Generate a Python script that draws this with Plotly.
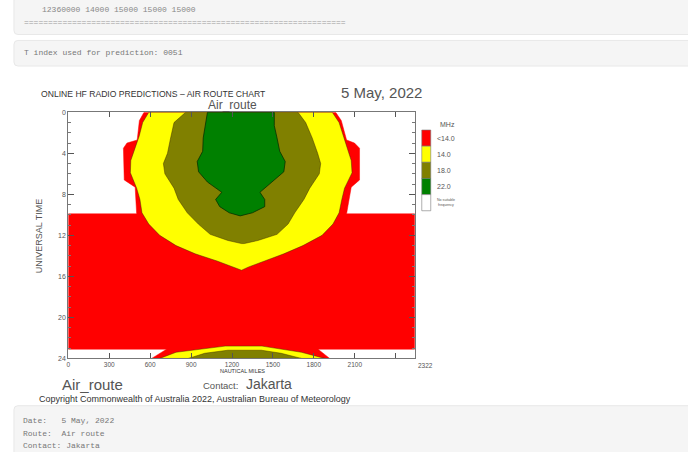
import plotly.graph_objects as go

W, H = 688, 452

# ---------------- data ----------------
# UT hours (y) and nautical-mile limits (x) of each frequency region
red_ut    = [0, 0.8, 2.7, 3.0, 3.5, 6.6, 7.3, 9.9, 9.9, 23.1, 23.1, 24]
red_left  = [555, 521, 505, 430, 404, 410, 490, 501, 0, 0, 720, 611]
red_right = [1960, 2001, 2040, 2098, 2135, 2135, 2074, 2040, 2540, 2540, 1831, 1916]

yellow_ut    = [0, 1.0, 2.3, 3.5, 4.7, 5.9, 7.4, 8.5, 9.8, 10.9, 12.0, 13.0, 13.8, 14.5, 15.1, 15.4]
yellow_left  = [590, 545, 520, 490, 458, 455, 501, 525, 540, 590, 670, 790, 930, 1090, 1210, 1270]
yellow_right = [1935, 1985, 2015, 2045, 2074, 2080, 2025, 2005, 1985, 1940, 1860, 1720, 1580, 1440, 1318, 1270]

olive_ut    = [0, 1.0, 2.5, 4.0, 5.0, 6.0, 7.4, 8.5, 9.8, 10.9, 11.9, 12.5, 12.8]
olive_left  = [860, 775, 750, 727, 697, 708, 775, 806, 872, 953, 1040, 1170, 1270]
olive_right = [1684, 1740, 1788, 1828, 1850, 1840, 1770, 1727, 1660, 1611, 1530, 1390, 1290]

green_ut    = [0, 1.3, 2.5, 3.8, 4.8, 5.8, 6.8, 7.8, 8.5, 9.2, 9.8, 10.1]
green_left  = [1020, 1001, 989, 985, 945, 955, 1020, 1125, 1080, 1110, 1180, 1260]
green_right = [1510, 1510, 1530, 1550, 1590, 1580, 1490, 1405, 1440, 1440, 1350, 1260]

# next-day regions rising from the bottom of the chart
ybump_ut    = [22.8, 23.1, 23.4, 24.0]
ybump_left  = [1150, 953, 790, 670]
ybump_right = [1420, 1562, 1709, 1880]

obump_ut    = [23.2, 23.5, 24.0]
obump_left  = [1170, 1000, 880]
obump_right = [1415, 1560, 1709]

x_ticks  = [0, 300, 600, 900, 1200, 1500, 1800, 2100, 2400]
x_labels = ["0", "300", "600", "900", "1200", "1500", "1800", "2100", ""]
x_end_label = "2322"
y_ticks  = [0, 4, 8, 12, 16, 20, 24]
y_minor  = list(range(25))

legend_labels = ["<14.0", "14.0", "18.0", "22.0"]
legend_colors = ["#ff0000", "#ffff00", "#808000", "#008000"]

RED, YEL, OLV, GRN = legend_colors


def poly(ut, left, right):
    xs = list(left) + list(right)[::-1] + [left[0]]
    ys = list(ut) + list(ut)[::-1] + [ut[0]]
    return xs, ys


fig = go.Figure()

edge = "rgba(60,40,0,0.75)"

xs, ys = poly(red_ut, red_left, red_right)
fig.add_trace(go.Scatter(x=xs, y=ys, fill="toself", fillcolor=RED, mode="lines",
                         line=dict(color=RED, width=0.5), hoverinfo="skip"))

x1, y1 = poly(yellow_ut, yellow_left, yellow_right)
x2, y2 = poly(ybump_ut, ybump_left, ybump_right)
fig.add_trace(go.Scatter(x=x1 + [None] + x2, y=y1 + [None] + y2, fill="toself",
                         fillcolor=YEL, mode="lines", line=dict(color=edge, width=0.6),
                         hoverinfo="skip"))

x1, y1 = poly(olive_ut, olive_left, olive_right)
x2, y2 = poly(obump_ut, obump_left, obump_right)
fig.add_trace(go.Scatter(x=x1 + [None] + x2, y=y1 + [None] + y2, fill="toself",
                         fillcolor=OLV, mode="lines", line=dict(color=edge, width=0.6),
                         hoverinfo="skip"))

x1, y1 = poly(green_ut, green_left, green_right)
fig.add_trace(go.Scatter(x=x1, y=y1, fill="toself", fillcolor=GRN, mode="lines",
                         line=dict(color="rgba(0,40,0,0.9)", width=0.8), hoverinfo="skip"))


def X(px):
    return px / W


def Y(py):
    return 1 - py / H


def rrect(x0, y0, x1, y1, r=4):
    return ("M {a},{b} L {c},{b} Q {d},{b} {d},{e} L {d},{f} Q {d},{g} {c},{g} "
            "L {a},{g} Q {h},{g} {h},{f} L {h},{e} Q {h},{b} {a},{b} Z").format(
        a=X(x0 + r), b=Y(y0), c=X(x1 - r), d=X(x1), e=Y(y0 + r), f=Y(y1 - r),
        g=Y(y1), h=X(x0))


shapes = []
for (a, b, c, d) in [(12, -8, 700, 31), (12, 37, 700, 63), (12, 408, 700, 470)]:
    shapes.append(dict(type="path", path=rrect(a, b, c, d), xref="paper", yref="paper",
                       fillcolor="#f5f5f5", line=dict(color="#e8e8e8", width=1),
                       layer="below"))

# legend swatches
sw_top, sw_h = 128, 16.4
for i, col in enumerate(legend_colors + ["#ffffff"]):
    shapes.append(dict(type="rect", xref="paper", yref="paper",
                       x0=X(421), x1=X(430), y0=Y(sw_top + sw_h * (i + 1)),
                       y1=Y(sw_top + sw_h * i), fillcolor=col,
                       line=dict(color="#777", width=0.6)))

ann = []


def txt(s, px, py, size, anchor="left", color="#333", family="Liberation Sans", angle=0):
    ann.append(dict(text=s, x=X(px), y=Y(py), xref="paper", yref="paper",
                    xanchor=anchor, yanchor="middle", showarrow=False, textangle=angle,
                    font=dict(size=size, color=color, family=family)))


mono = "Liberation Mono"
txt("12360000 14000 15000 15000 15000", 38, 6, 8, color="#888", family=mono)
txt("=" * 67, 20, 19, 8, color="#999", family=mono)
txt("T index used for prediction: 0051", 20, 49, 8, color="#777", family=mono)
txt("Date:   5 May, 2022", 19, 423, 8, color="#777", family=mono)
txt("Route:  Air route", 19, 436, 8, color="#777", family=mono)
txt("Contact: Jakarta", 19, 448, 8, color="#777", family=mono)

txt("ONLINE HF RADIO PREDICTIONS \u2013 AIR ROUTE CHART", 37, 91, 8.6, color="#333")
txt("5 May, 2022", 338, 90, 15, color="#555")
txt("Air_route", 231, 103, 12, anchor="center", color="#555")
txt("UNIVERSAL TIME", 37, 235, 9, anchor="center", color="#555", angle=-90)
txt("NAUTICAL MILES", 241, 373, 5.5, anchor="center", color="#333")
txt(x_end_label, 425, 367, 6.5, anchor="center", color="#555")
txt("Air_route", 58, 386, 15, color="#555")
txt("Contact:", 200, 387, 9.5, color="#555")
txt("Jakarta", 243, 386, 14, color="#555")
txt("Copyright Commonwealth of Australia 2022, Australian Bureau of Meteorology",
    35, 401, 9, color="#333")

txt("MHz", 437, 122, 7, color="#555")
for i, lab in enumerate(legend_labels):
    txt(lab, 434, sw_top + sw_h * (i + 0.5), 7, color="#555")
txt("No suitable<br>frequency", 434, sw_top + sw_h * 4.5, 3.6, color="#555")

fig.update_layout(
    width=W, height=H, margin=dict(l=0, r=0, t=0, b=0),
    paper_bgcolor="white", plot_bgcolor="white", showlegend=False,
    shapes=shapes, annotations=ann,
    xaxis=dict(domain=[X(66.5), X(414)], range=[0, 2540], tickmode="array",
               tickvals=x_ticks, ticktext=x_labels, ticks="inside", ticklen=5,
               tickcolor="#555", showline=True, linecolor="#777", linewidth=1,
               mirror="ticks", showgrid=False, zeroline=False,
               tickfont=dict(size=6.5, color="#555", family="Liberation Sans")),
    yaxis=dict(domain=[Y(360), Y(110)], range=[24, 0], tickmode="array",
               tickvals=y_ticks, ticks="inside", ticklen=6, tickcolor="#555",
               minor=dict(tickvals=y_minor, ticks="inside", ticklen=3, tickcolor="#777"),
               showline=True, linecolor="#777", linewidth=1, mirror="ticks",
               showgrid=False, zeroline=False,
               tickfont=dict(size=7, color="#555", family="Liberation Sans")),
)

fig.write_html("out.html")
